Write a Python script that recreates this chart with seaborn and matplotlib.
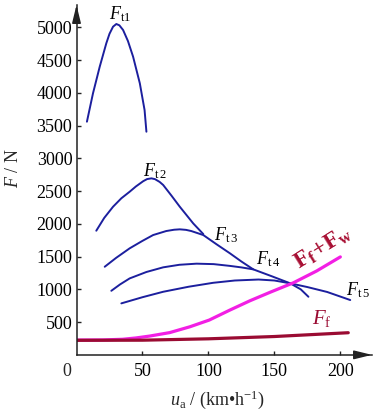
import numpy as np
import pandas as pd
import matplotlib
matplotlib.use("Agg")
import matplotlib.pyplot as plt
import seaborn as sns

# ── Data ──────────────────────────────────────────────
# traction force per gear: speed u_a (km/h), force F (N)
ft1_u = [7.9, 12.5, 17.6, 22.6, 25, 27.7, 30.2, 32.5, 35.3, 39, 42.9, 48.0, 51.6, 53.0]
ft1_f = [3559, 3992, 4398, 4756, 4900, 5009, 5050, 5030, 4959, 4790, 4551, 4145, 3737, 3406]

ft2_u = [15, 21, 27.7, 34, 40.3, 45, 50.5, 53.5, 56.8, 59.5, 63, 65.7, 72, 78.3, 88.5, 96.1]
ft2_f = [1895, 2090, 2261, 2390, 2490, 2570, 2650, 2683, 2694, 2682, 2640, 2593, 2430, 2261, 2006, 1844]

ft3_u = [21.4, 30, 40.3, 50, 58.1, 68, 74, 78.3, 83, 87, 96.1, 106, 116.3, 125, 134]
ft3_f = [1345, 1480, 1626, 1740, 1829, 1890, 1910, 1916, 1908, 1890, 1829, 1690, 1550, 1425, 1305]

ft4_u = [26.4, 33, 40.3, 53, 65.7, 78, 91, 104, 116.3, 125, 134, 148, 162, 170, 175.8]
ft4_f = [978, 1075, 1167, 1265, 1336, 1375, 1392, 1385, 1358, 1335, 1305, 1200, 1092, 1000, 887]

ft5_u = [34, 50, 65.7, 85, 103.6, 120, 138, 150, 162, 175, 190, 207.5]
ft5_f = [786, 880, 963, 1040, 1100, 1135, 1150, 1135, 1092, 1035, 960, 837]

# rolling resistance and rolling + air resistance
ff_u = [0, 50, 100, 150, 206]
ff_f = [222, 224, 245, 280, 338]

ffw_u = [0, 20, 35, 45, 55.5, 70.7, 86, 100.6, 116.3, 131.5, 146.7, 164.4, 182, 200]
ffw_f = [226, 228, 238, 258, 287, 340, 429, 531, 684, 826, 955, 1100, 1280, 1495]

gear_labels = [r"$F_{\rm t1}$", r"$F_{\rm t\,2}$", r"$F_{\rm t\,3}$",
               r"$F_{\rm t\,4}$", r"$F_{\rm t\,5}$"]
label_pos = [(33, 5200), (59, 2800), (113, 1830), (145, 1460), (213, 990)]

y_ticks = [500, 1000, 1500, 2000, 2500, 3000, 3500, 4000, 4500, 5000]
x_ticks = [50, 100, 150, 200]

# ── Style ─────────────────────────────────────────────
BLUE = "#1c1f9e"
PINK = "#f21fe4"
DARK_RED = "#9a0b32"

sns.set_theme(style="ticks")
plt.rcParams.update({
    "font.family": ["Liberation Serif", "DejaVu Serif"],
    "mathtext.fontset": "custom",
    "mathtext.rm": "Liberation Serif",
    "mathtext.it": "Liberation Serif:italic",
    "mathtext.bf": "Liberation Serif:bold",
    "axes.edgecolor": "#222222",
})

fig = plt.figure(figsize=(3.75, 4.17), dpi=100)
ax = fig.add_axes([0.204, 0.149, 0.788, 0.839])

curves = [(ft1_u, ft1_f), (ft2_u, ft2_f), (ft3_u, ft3_f), (ft4_u, ft4_f), (ft5_u, ft5_f)]
for u, f in curves:
    sns.lineplot(x=u, y=f, ax=ax, color=BLUE, linewidth=1.4, sort=False)

sns.lineplot(x=ffw_u, y=ffw_f, ax=ax, color=PINK, linewidth=2.3, sort=False)
sns.lineplot(x=ff_u, y=ff_f, ax=ax, color=DARK_RED, linewidth=2.3, sort=False)

for text, (x, y) in zip(gear_labels, label_pos):
    ax.text(x, y, text, fontsize=13, ha="center", va="center", color="black")

ax.text(186, 560, r"$F_{\rm f}$", fontsize=15, ha="center", va="center", color=DARK_RED)
ax.text(187, 1640, r"$\mathbf{F_f\!+\!F_w}$", fontsize=17, ha="center", va="center",
        color="#a80f33", rotation=32)

ax.set_xlim(0, 224)
ax.set_ylim(0, 5340)
ax.set_xticks(x_ticks)
ax.set_yticks(y_ticks)
ax.tick_params(axis="both", direction="in", length=3, width=1, labelsize=13,
               colors="#222222", labelcolor="black")
ax.tick_params(axis="y", pad=3)
ax.tick_params(axis="x", pad=6)
sns.despine(ax=ax)
for s in ["left", "bottom"]:
    ax.spines[s].set_linewidth(1.1)

# axis arrows
arrow = dict(arrowstyle="-|>,head_length=0.9,head_width=0.22", color="#222222",
             lw=1.1, shrinkA=0, shrinkB=0)
ax.annotate("", xy=(0, 1.0), xytext=(0, 0.95), xycoords="axes fraction", arrowprops=arrow)
ax.annotate("", xy=(1.0, 0), xytext=(0.95, 0), xycoords="axes fraction", arrowprops=arrow)

fig.text(67 / 375, 1 - 371 / 417, "0", fontsize=13, ha="center", va="center")
fig.text(14 / 375, 1 - 168 / 417, r"$F$ / N", fontsize=13, ha="center", va="center",
         rotation=90)
fig.text(217 / 375, 1 - 400 / 417, r"$u_{\rm a}$ / (km•h$^{-1}$)", fontsize=13,
         ha="center", va="center")

fig.savefig("out.png", dpi=100)
